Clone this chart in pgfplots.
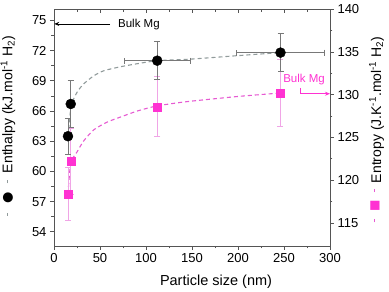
\documentclass[border=0pt]{standalone}
\usepackage{fontspec}
\setmainfont{Liberation Sans}
\newfontfamily\dejavu{DejaVu Sans}
\usepackage{pgfplots}
\pgfplotsset{compat=1.18}
\usetikzlibrary{arrows.meta}
\definecolor{pinkm}{RGB}{255,50,210}
\definecolor{pinkerr}{RGB}{240,165,230}
\definecolor{pinkcurve}{RGB}{230,90,210}
\definecolor{graycurve}{RGB}{145,155,155}
\definecolor{grayerr}{RGB}{120,120,120}
\definecolor{axcol}{RGB}{85,85,85}
\pgfplotsset{
  myaxis/.style={
    scale only axis, width=276pt, height=236.7pt,
    xmin=0, xmax=300,
    axis line style={axcol, line width=0.8pt},
    every tick/.style={axcol, line width=0.8pt},
    major tick length=4pt, minor tick length=2.5pt,
    tick label style={font=\fontsize{13}{15}\selectfont, /pgf/number format/assume math mode=true},
  },
}
\begin{document}
\begin{tikzpicture}
\useasboundingbox (-54pt,-46pt) rectangle (335pt,246pt);
% top ticks
\begin{axis}[myaxis, ymin=0, ymax=1, ytick=\empty, xtick={0,50,...,300}, minor x tick num=1,
  xtick pos=top, tick align=inside, xticklabels={}]
\end{axis}
% right axis: entropy
\begin{axis}[myaxis, ymin=112.3, ymax=140, ytick={115,120,...,140}, minor y tick num=1,
  ytick pos=right, yticklabel pos=right, xtick=\empty, tick align=outside]
\addplot[pinkcurve, line width=1.1pt, dash pattern=on 4pt off 3pt, smooth, tension=0.4] coordinates {
(15.2,118.4)(18.2,122.0)(25,123.3)(32.3,124.6)(43.3,125.9)(57.8,126.8)(72.5,127.4)(90.7,128.1)(112.3,128.7)(145,129.2)(200,129.8)(245.7,130.2)};
\addplot[only marks, mark=square*, mark size=4pt, pinkm,
  error bars/.cd, y dir=both, y explicit,
  error bar style={pinkerr, line width=0.8pt},
  error mark options={rotate=90, pinkerr, mark size=3pt, line width=0.8pt}]
  coordinates {(15.2,118.4) +- (0,3.1) (18.2,122.2) +- (0,3.9) (112.3,128.6) +- (0,3.5) (245.7,130.2) +- (0,3.9)};
\node[font=\fontsize{11.5}{13}\selectfont, text=pinkm, anchor=west, inner sep=0pt] at (axis cs:249,131.8) {Bulk Mg};
\draw[pinkm, line width=0.7pt, -{Stealth[length=5pt,width=4pt]}] (axis cs:267.5,130.8) -- (axis cs:267.5,130.12) -- (axis cs:300,130.12);
\end{axis}
% left axis: enthalpy
\begin{axis}[myaxis, ymin=52.6, ymax=76.1, ytick={54,57,...,75}, minor y tick num=1,
  ytick pos=left, xtick={0,50,...,300}, minor x tick num=1, xtick pos=bottom, tick align=outside]
\addplot[graycurve, line width=1.1pt, dash pattern=on 4pt off 3pt, smooth, tension=0.4] coordinates {
(15.2,63.5)(18.2,66.2)(21.4,67.2)(26,68.0)(32.3,68.7)(43.3,69.5)(54.2,70.0)(72.5,70.4)(90.7,70.7)(112.3,71.0)(148,71.15)(200,71.5)(245.7,71.8)};
\addplot[only marks, mark=*, mark size=5pt, black,
  error bars/.cd, x dir=both, x explicit, y dir=both, y explicit,
  error bar style={grayerr, line width=0.8pt},
  error mark options={rotate=90, grayerr, mark size=3pt, line width=0.8pt}]
  coordinates {(15.2,63.5) +- (2,1.8) (18.2,66.7) +- (2,2.3) (112.2,71.0) +- (36,1.9) (246.2,71.8) +- (47.6,1.9)};
\node[font=\fontsize{11.5}{13}\selectfont, anchor=west, inner sep=0pt] at (axis cs:69.5,74.6) {Bulk Mg};
\draw[black, line width=0.7pt, -{Stealth[length=5pt,width=4pt]}] (axis cs:61,74.65) -- (axis cs:0.3,74.65);
\end{axis}
% axis labels
\node[font=\fontsize{14.5}{16}\selectfont, anchor=base] at (162pt,-40pt) {Particle size (nm)};
\node[font=\fontsize{14}{16}\selectfont, rotate=90, anchor=base west, inner sep=0pt] at (-41.5pt,72.7pt)
  {Enthalpy (kJ.mol\textsuperscript{-1} H\textsubscript{2})};
\node[font=\fontsize{14}{16}\selectfont, rotate=90, anchor=base west, inner sep=0pt] at (327pt,62.7pt)
  {Entropy (J.K\textsuperscript{-1}.mol\textsuperscript{-1} H\textsubscript{2})};
\node[rotate=90, inner sep=0pt, font=\dejavu\fontsize{13}{15}\selectfont] at (-46pt,48pt)
  {\textcolor{graycurve}{\rule[0.55ex]{3pt}{0.9pt}}\hspace{9pt}●\hspace{9pt}\textcolor{graycurve}{\rule[0.55ex]{3pt}{0.9pt}}};
\node[rotate=90, inner sep=0pt, font=\dejavu\fontsize{12}{15}\selectfont, text=pinkm] at (321pt,40.3pt)
  {\textcolor{pinkcurve}{\rule[0.55ex]{3pt}{0.9pt}}\hspace{8pt}■\hspace{8pt}\textcolor{pinkcurve}{\rule[0.55ex]{3pt}{0.9pt}}};
\end{tikzpicture}
\end{document}
